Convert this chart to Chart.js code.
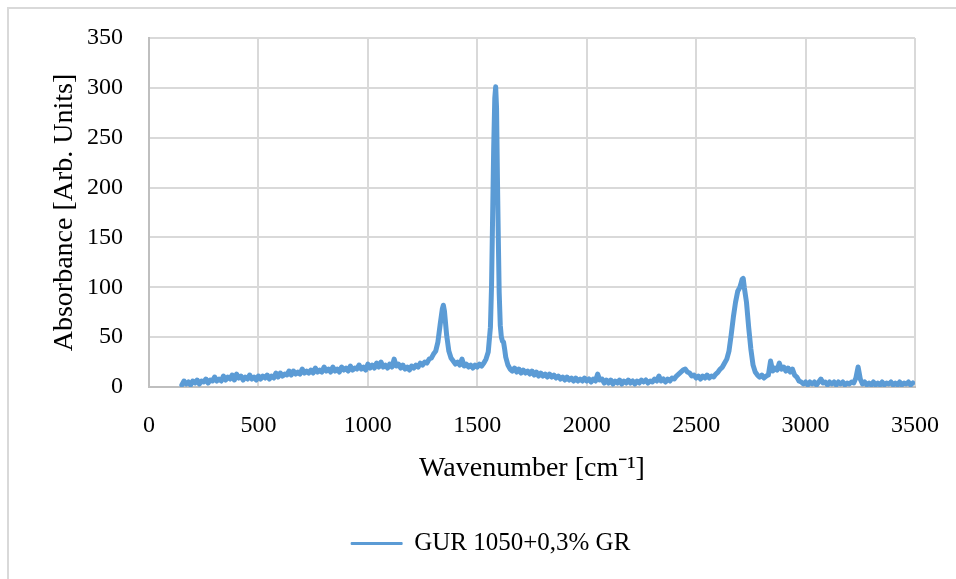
<!DOCTYPE html>
<html>
<head>
<meta charset="utf-8">
<script src="https://cdn.jsdelivr.net/npm/chart.js@4.4.1/dist/chart.umd.min.js"></script>
<style>
  body { margin: 0; background: #fff; }
  #grafico { display: block; }
</style>
</head>
<body>
<canvas id="grafico" width="956" height="579"></canvas>
<script>
// espectro (numero de onda em cm-1, absorbancia em u.a.)
const wavenumber = [
  150, 160, 170, 180, 190, 200, 210, 220, 230, 240,
  250, 260, 270, 280, 290, 300, 310, 320, 330, 340,
  350, 360, 370, 380, 390, 400, 410, 420, 430, 440,
  450, 460, 470, 480, 490, 500, 510, 520, 530, 540,
  550, 560, 570, 580, 590, 600, 610, 620, 630, 640,
  650, 660, 670, 680, 690, 700, 710, 720, 730, 740,
  750, 760, 770, 780, 790, 800, 810, 820, 830, 840,
  850, 860, 870, 880, 890, 900, 910, 920, 930, 940,
  950, 960, 970, 980, 990, 1000, 1010, 1020, 1030, 1040,
  1050, 1060, 1070, 1080, 1090, 1100, 1110, 1120, 1130, 1140,
  1150, 1160, 1170, 1180, 1190, 1200, 1210, 1220, 1230, 1240,
  1250, 1260, 1270, 1280, 1290, 1300, 1310, 1320, 1330, 1340,
  1345,
  1350, 1360, 1370, 1380, 1390, 1400, 1410, 1420, 1430, 1440,
  1450, 1460, 1470, 1480, 1490, 1500, 1510, 1520, 1530, 1540,
  1550, 1560, 1565, 1570, 1575, 1580, 1584, 1588, 1592, 1596,
  1600, 1605, 1610, 1615, 1620, 1625, 1630, 1640, 1650, 1660,
  1670, 1680, 1690, 1700, 1710, 1720, 1730, 1740, 1750, 1760,
  1770, 1780, 1790, 1800, 1810, 1820, 1830, 1840, 1850, 1860,
  1870, 1880, 1890, 1900, 1910, 1920, 1930, 1940, 1950, 1960,
  1970, 1980, 1990, 2000, 2010, 2020, 2030, 2040, 2050, 2060,
  2070, 2080, 2090, 2100, 2110, 2120, 2130, 2140, 2150, 2160,
  2170, 2180, 2190, 2200, 2210, 2220, 2230, 2240, 2250, 2260,
  2270, 2280, 2290, 2300, 2310, 2320, 2330, 2340, 2350, 2360,
  2370, 2380, 2390, 2400, 2410, 2420, 2430, 2440, 2450, 2460,
  2470, 2480, 2490, 2500, 2510, 2520, 2530, 2540, 2550, 2560,
  2570, 2580, 2590, 2600, 2610, 2620, 2630, 2640, 2650, 2660,
  2670, 2680, 2690, 2700, 2705, 2710, 2715, 2720, 2730, 2740,
  2750, 2760, 2770, 2780, 2790, 2800, 2810, 2820, 2830, 2840,
  2850, 2860, 2870, 2880, 2890, 2900, 2910, 2920, 2930, 2940,
  2950, 2960, 2970, 2980, 2990, 3000, 3010, 3020, 3030, 3040,
  3050, 3060, 3070, 3080, 3090, 3100, 3110, 3120, 3130, 3140,
  3150, 3160, 3170, 3180, 3190, 3200, 3210, 3220, 3230, 3240,
  3250, 3260, 3270, 3280, 3290, 3300, 3310, 3320, 3330, 3340,
  3350, 3360, 3370, 3380, 3390, 3400, 3410, 3420, 3430, 3440,
  3450, 3460, 3470, 3480, 3490
];

const absorbance = [
  2, 6, 3, 5, 2, 6, 4, 7, 3, 6,
  5, 8, 4, 7, 6, 10, 6, 8, 6, 11,
  7, 10, 8, 12, 7, 13, 9, 11, 7, 10,
  8, 12, 8, 10, 7, 11, 8, 11, 9, 12,
  8, 11, 9, 14, 10, 14, 11, 13, 12, 16,
  12, 16, 13, 15, 13, 18, 14, 16, 14, 17,
  14, 19, 15, 17, 15, 20, 16, 18, 15, 20,
  16, 18, 15, 20, 17, 19, 16, 21, 17, 19,
  18, 22, 18, 20, 17, 23, 19, 22, 19, 24,
  20, 25, 20, 22, 19, 23, 20, 28, 21, 23,
  19, 22, 18, 20, 17, 21, 19, 22, 20, 24,
  22, 25, 24, 28, 29, 33, 36, 45, 62, 78,
  82,
  76, 52, 36, 29, 26, 23, 25, 22, 28, 21,
  23, 20, 22, 19, 22, 20, 23, 21, 24, 28,
  35, 60, 100, 170, 240, 290, 301, 280, 210, 150,
  95, 62, 50, 46, 45, 38, 30, 22, 18, 16,
  19, 15, 18, 14, 17, 14, 16, 13, 16, 12,
  15, 11, 14, 11, 13, 10, 13, 10, 12, 9,
  11, 8, 10, 7, 10, 7, 9, 6, 9, 6,
  8, 6, 9, 6, 8, 5, 8, 6, 13, 7,
  8, 4, 7, 4, 7, 3, 6, 4, 7, 3,
  6, 4, 7, 4, 6, 3, 6, 4, 7, 5,
  7, 4, 6, 5, 8, 6, 11, 6, 8, 5,
  8, 6, 9, 8, 11, 13, 15, 17, 18, 15,
  14, 11, 12, 9, 11, 8, 11, 9, 12, 9,
  11, 10, 13, 15, 18, 20, 24, 28, 36, 52,
  70, 85, 96, 100, 104, 108, 109, 100, 85, 60,
  38, 22, 15, 12, 10, 12, 9, 11, 12, 26,
  16, 19, 17, 24, 18, 20, 16, 19, 15, 18,
  12, 10, 6, 5, 3, 5, 2, 5, 3, 5,
  2, 5, 8, 4, 5, 2, 5, 3, 5, 2,
  5, 3, 5, 2, 4, 3, 5, 4, 9, 20,
  8, 3, 5, 2, 4, 2, 5, 2, 4, 2,
  5, 2, 4, 3, 5, 2, 4, 2, 5, 2,
  4, 3, 5, 2, 4
];

const serie = 'GUR 1050+0,3% GR';
const fonte = 'Liberation Serif';
const azul = '#5B9BD5';
const cinza = '#d9d9d9';

const pontos = wavenumber.map((w, i) => ({ x: w, y: absorbance[i] }));

// moldura cinza em volta da figura
const moldura = {
  id: 'moldura',
  beforeDraw(chart) {
    const ctx = chart.ctx;
    ctx.save();
    ctx.fillStyle = cinza;
    ctx.fillRect(7, 7, 949, 2);
    ctx.fillRect(7, 7, 2, 572);
    ctx.restore();
  }
};

const grafico = document.getElementById('grafico');

new Chart(grafico, {
  type: 'line',
  data: {
    datasets: [{
      label: serie,
      data: pontos,
      borderColor: azul,
      backgroundColor: azul,
      borderWidth: 5,
      borderJoinStyle: 'round',
      borderCapStyle: 'round',
      pointRadius: 0,
      tension: 0,
      fill: false
    }]
  },
  options: {
    responsive: false,
    animation: false,
    layout: { padding: { left: 26, right: 0, top: 38, bottom: 13 } },
    plugins: {
      legend: {
        position: 'bottom',
        labels: {
          font: { family: fonte, size: 25 },
          color: '#000',
          boxWidth: 50,
          boxHeight: 1,
          padding: 10,
          // linha da legenda mais fina que a serie
          generateLabels(chart) {
            const itens = Chart.defaults.plugins.legend.labels.generateLabels(chart);
            itens.forEach(it => { it.lineWidth = 2; });
            return itens;
          }
        }
      },
      tooltip: { enabled: false }
    },
    scales: {
      x: {
        type: 'linear',
        min: 0,
        max: 3500,
        ticks: {
          stepSize: 500,
          padding: 24,
          color: '#000',
          font: { family: fonte, size: 24 },
          callback: v => v
        },
        grid: { color: cinza, lineWidth: 2, drawTicks: false },
        border: { color: '#bfbfbf', width: 2 },
        title: {
          display: true,
          text: 'Wavenumber [cm⁻¹]',
          color: '#000',
          font: { family: fonte, size: 28 },
          padding: { top: 0, bottom: 36 }
        },
        afterFit(s) {
          s.height = 134;
          s.paddingLeft = 0;
          s.paddingRight = 41;
        }
      },
      y: {
        min: 0,
        max: 350,
        ticks: {
          stepSize: 50,
          padding: 26,
          color: '#000',
          font: { family: fonte, size: 24 }
        },
        grid: { color: cinza, lineWidth: 2, drawTicks: false },
        border: { color: '#bfbfbf', width: 2 },
        title: {
          display: true,
          text: 'Absorbance [Arb. Units]',
          color: '#000',
          font: { family: fonte, size: 28 },
          padding: { top: 22, bottom: 0 }
        },
        afterFit(s) {
          s.width = 123;
          s.paddingTop = 0;
          s.paddingBottom = 0;
        }
      }
    }
  },
  plugins: [moldura]
});
</script>
</body>
</html>
